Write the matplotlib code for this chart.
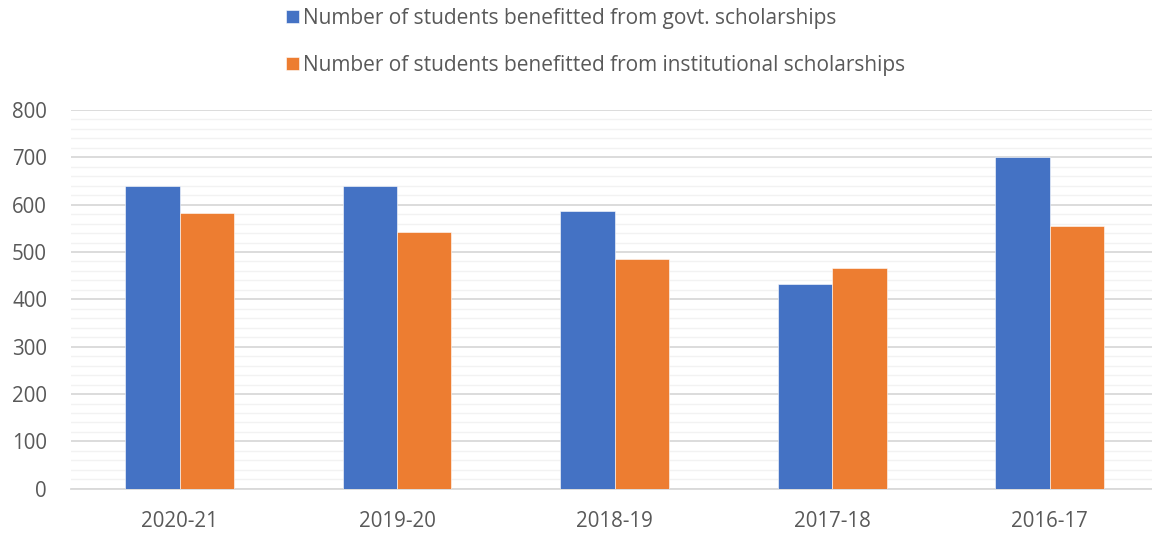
import numpy as np
import matplotlib
matplotlib.use("Agg")
import matplotlib.pyplot as plt
from matplotlib.ticker import MultipleLocator

# ----------------------------
# Data
# ----------------------------
years = ["2020-21", "2019-20", "2018-19", "2017-18", "2016-17"]
govt = [640, 640, 587, 433, 701]
institutional = [583, 542, 485, 467, 555]
series_labels = [
    "Number of students benefitted from govt. scholarships",
    "Number of students benefitted from institutional scholarships",
]

BLUE = "#4472C4"
ORANGE = "#ED7D31"
TEXT = "#595959"

plt.rcParams["font.family"] = ["Open Sans", "DejaVu Sans"]

fig = plt.figure(figsize=(11.52, 5.33), dpi=100)
ax = fig.add_axes([0.0614, 0.0831, 1.0 - 0.0614, 0.7936 - 0.0831])

x = np.arange(len(years))
w = 0.25
b1 = ax.bar(x - w / 2, govt, w, color=BLUE, edgecolor="white", linewidth=0.4, zorder=3)
b2 = ax.bar(x + w / 2, institutional, w, color=ORANGE, edgecolor="white", linewidth=0.4, zorder=3)

ax.set_xlim(-0.5, 4.47)
ax.set_ylim(0, 800)
ax.yaxis.set_major_locator(MultipleLocator(100))
ax.yaxis.set_minor_locator(MultipleLocator(20))
ax.set_xticks(x)
ax.set_xticklabels(years)

ax.grid(axis="y", which="major", color="#D9D9D9", linewidth=1.3, zorder=0)
ax.grid(axis="y", which="minor", color="#F2F2F2", linewidth=1.0, zorder=0)
ax.set_axisbelow(True)

for s in ["top", "right", "left"]:
    ax.spines[s].set_visible(False)
ax.spines["bottom"].set_color("#D9D9D9")
ax.spines["bottom"].set_linewidth(1.3)

ax.tick_params(axis="y", which="both", length=0, pad=17, labelsize=14.8, labelcolor=TEXT)
ax.tick_params(axis="x", which="both", length=0, pad=16, labelsize=14.8, labelcolor=TEXT)

fig.legend(
    handles=[b1, b2],
    labels=series_labels,
    loc="upper left",
    bbox_to_anchor=(0.236, 1.012),
    frameon=False,
    fontsize=15,
    labelcolor=TEXT,
    handlelength=0.6,
    handleheight=0.6,
    handletextpad=0.2,
    labelspacing=1.25,
    borderpad=0.2,
)

plt.savefig("out.png", dpi=100)
plt.close()
